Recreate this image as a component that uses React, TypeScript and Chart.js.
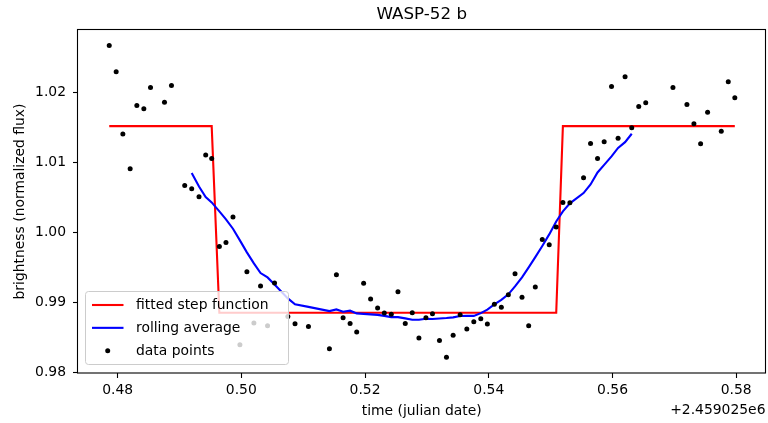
import React, { useEffect, useRef } from "react";
import { Chart, registerables } from "chart.js";

Chart.register(...registerables);

const TITLE = "WASP-52 b";
const X_LABEL = "time (julian date)";
const Y_LABEL = "brightness (normalized flux)";
const X_OFFSET_TEXT = "+2.459025e6";

const xTicks = [0.48, 0.5, 0.52, 0.54, 0.56, 0.58];
const yTicks = [0.98, 0.99, 1.0, 1.01, 1.02];

// time (offset from 2459025) of each measurement
const times = [
  0.47865, 0.47977, 0.48085, 0.48203, 0.48311, 0.48424, 0.48532, 0.48758, 0.48871, 0.49085,
  0.49198, 0.49316, 0.49424, 0.49521, 0.49645, 0.49752, 0.49865, 0.49977, 0.5009, 0.50203,
  0.50311, 0.50424, 0.50537, 0.50752, 0.50868, 0.51085, 0.51424, 0.51537, 0.51645, 0.51758,
  0.51865, 0.51977, 0.5209, 0.52203, 0.52311, 0.52424, 0.52532, 0.5265, 0.52763, 0.52871,
  0.52984, 0.5309, 0.53203, 0.53316, 0.53424, 0.53537, 0.53645, 0.53758, 0.53871, 0.53977,
  0.5409, 0.54203, 0.54316, 0.54424, 0.54537, 0.54645, 0.54752, 0.54865, 0.54977, 0.5509,
  0.55198, 0.55311, 0.55532, 0.55645, 0.55758, 0.55865, 0.55984, 0.5609, 0.56203, 0.56311,
  0.56424, 0.56537, 0.56977, 0.57203, 0.57316, 0.57424, 0.57537, 0.57758, 0.57871, 0.57977,
];

const flux = [
  1.02676, 1.023, 1.01409, 1.00914, 1.01819, 1.01771, 1.02076, 1.01866, 1.02104, 1.00676,
  1.00629, 1.00514, 1.01109, 1.01061, 0.99804, 0.99861, 1.00223, 0.984, 0.99443, 0.98709,
  0.99237, 0.98671, 0.9928, 0.98804, 0.987, 0.98659, 0.98343, 0.994, 0.98786, 0.98704,
  0.9858, 0.99276, 0.99051, 0.98923, 0.98851, 0.98833, 0.99157, 0.98704, 0.98857, 0.98494,
  0.98786, 0.98843, 0.98461, 0.98219, 0.98533, 0.98829, 0.98623, 0.98729, 0.98771, 0.98694,
  0.98976, 0.98933, 0.99114, 0.99414, 0.99076, 0.98671, 0.99223, 0.99904, 0.99829, 1.0008,
  1.00433, 1.00429, 1.00786, 1.01276, 1.01061, 1.013, 1.0209, 1.01351, 1.02229, 1.015,
  1.01804, 1.01857, 1.02076, 1.01833, 1.01557, 1.01271, 1.01723, 1.01451, 1.02157, 1.01929,
];

const rollingTimes = [
  0.49198, 0.49316, 0.49424, 0.49521, 0.49645, 0.49752, 0.49865, 0.49977, 0.5009, 0.50203,
  0.50311, 0.50424, 0.50537, 0.50752, 0.50868, 0.51085, 0.51424, 0.51537, 0.51645, 0.51758,
  0.51865, 0.51977, 0.5209, 0.52203, 0.52311, 0.52424, 0.52532, 0.5265, 0.52763, 0.52871,
  0.52984, 0.5309, 0.53203, 0.53316, 0.53424, 0.53537, 0.53645, 0.53758, 0.53871, 0.53977,
  0.5409, 0.54203, 0.54316, 0.54424, 0.54537, 0.54645, 0.54752, 0.54865, 0.54977, 0.5509,
  0.55198, 0.55311, 0.55532, 0.55645, 0.55758, 0.55865, 0.55984, 0.5609, 0.56203, 0.56311,
];

const rollingFlux = [
  1.00854, 1.00661, 1.00511, 1.00433, 1.00304, 1.0019, 1.00057, 0.9989, 0.99719, 0.99561,
  0.99423, 0.99361, 0.99261, 0.99061, 0.98976, 0.9894, 0.9888, 0.98904, 0.98871, 0.98886,
  0.98847, 0.9884, 0.98833, 0.98826, 0.98811, 0.98794, 0.98794, 0.98776, 0.98757, 0.98757,
  0.98771, 0.98766, 0.98773, 0.9878, 0.9879, 0.98809, 0.98811, 0.98811, 0.98851, 0.989,
  0.98976, 0.9904, 0.99119, 0.99233, 0.99361, 0.99504, 0.99651, 0.99811, 0.99976, 1.00161,
  1.00304, 1.00419, 1.00566, 1.0069, 1.00861, 1.00969, 1.0109, 1.01211, 1.01294, 1.01414,
];

const stepTimes = [0.47865, 0.49521, 0.49645, 0.5509, 0.55198, 0.57977];
const stepFlux = [1.01523, 1.01523, 0.98857, 0.98857, 1.01523, 1.01523];

const legendLabels = ["fitted step function", "rolling average", "data points"];

const FONT = "'DejaVu Sans', 'Liberation Sans', sans-serif";

export default function App() {
  const ref = useRef<HTMLCanvasElement>(null);

  useEffect(() => {
    document.body.style.margin = "0";
    const canvas = ref.current;
    if (!canvas) return;

    const decor = {
      id: "decor",
      afterDraw(chart: any) {
        const ctx = chart.ctx as CanvasRenderingContext2D;
        const a = chart.chartArea;
        ctx.save();
        // spines
        ctx.strokeStyle = "#000";
        ctx.lineWidth = 1.1;
        ctx.strokeRect(a.left - 0.5, a.top - 0.5, a.right - a.left + 0.5, a.bottom - a.top + 0.5);

        ctx.fillStyle = "#000";
        // title
        ctx.font = `16.7px ${FONT}`;
        ctx.textAlign = "center";
        ctx.textBaseline = "middle";
        ctx.fillText(TITLE, (a.left + a.right) / 2, 15);
        // x label
        ctx.font = `13.9px ${FONT}`;
        ctx.fillText(X_LABEL, (a.left + a.right) / 2, 411);
        // offset text
        ctx.textAlign = "right";
        ctx.fillText(X_OFFSET_TEXT, a.right, 410);
        // y label
        ctx.save();
        ctx.translate(20, (a.top + a.bottom) / 2);
        ctx.rotate(-Math.PI / 2);
        ctx.textAlign = "center";
        ctx.fillText(Y_LABEL, 0, 0);
        ctx.restore();

        // legend
        const bx = 85.5, by = 291.5, bw = 203, bh = 73, r = 3;
        ctx.beginPath();
        ctx.moveTo(bx + r, by);
        ctx.lineTo(bx + bw - r, by);
        ctx.arcTo(bx + bw, by, bx + bw, by + r, r);
        ctx.lineTo(bx + bw, by + bh - r);
        ctx.arcTo(bx + bw, by + bh, bx + bw - r, by + bh, r);
        ctx.lineTo(bx + r, by + bh);
        ctx.arcTo(bx, by + bh, bx, by + bh - r, r);
        ctx.lineTo(bx, by + r);
        ctx.arcTo(bx, by, bx + r, by, r);
        ctx.closePath();
        ctx.fillStyle = "rgba(255,255,255,0.8)";
        ctx.fill();
        ctx.strokeStyle = "#cccccc";
        ctx.lineWidth = 1;
        ctx.stroke();

        const colors = ["#ff0000", "#0000ff", "#000000"];
        ctx.font = `13.9px ${FONT}`;
        ctx.textAlign = "left";
        ctx.textBaseline = "middle";
        for (let i = 0; i < legendLabels.length; i++) {
          const y = 305 + i * 22.85;
          if (i < 2) {
            ctx.beginPath();
            ctx.moveTo(92, y);
            ctx.lineTo(123.5, y);
            ctx.strokeStyle = colors[i];
            ctx.lineWidth = 2.1;
            ctx.stroke();
          } else {
            ctx.beginPath();
            ctx.arc(107.7, y, 2.5, 0, Math.PI * 2);
            ctx.fillStyle = colors[i];
            ctx.fill();
          }
          ctx.fillStyle = "#000";
          ctx.fillText(legendLabels[i], 136, y + 0.5);
        }
        ctx.restore();
      },
    };

    const chart = new Chart(canvas, {
      type: "scatter",
      data: {
        datasets: [
          {
            label: legendLabels[2],
            data: times.map((t, i) => ({ x: t, y: flux[i] })),
            backgroundColor: "#000",
            borderColor: "#000",
            borderWidth: 0,
            pointRadius: 2.5,
            pointHoverRadius: 2.5,
            showLine: false,
            order: 0,
          },
          {
            label: legendLabels[1],
            data: rollingTimes.map((t, i) => ({ x: t, y: rollingFlux[i] })),
            borderColor: "#0000ff",
            backgroundColor: "#0000ff",
            borderWidth: 2.1,
            pointRadius: 0,
            showLine: true,
            tension: 0,
            order: 1,
          },
          {
            label: legendLabels[0],
            data: stepTimes.map((t, i) => ({ x: t, y: stepFlux[i] })),
            borderColor: "#ff0000",
            backgroundColor: "#ff0000",
            borderWidth: 2.1,
            pointRadius: 0,
            showLine: true,
            tension: 0,
            order: 2,
          },
        ] as any,
      },
      options: {
        responsive: false,
        animation: false,
        devicePixelRatio: 1,
        events: [],
        layout: { padding: { top: 30, right: 1, left: 0, bottom: 0 } },
        plugins: {
          legend: { display: false },
          tooltip: { enabled: false },
          title: { display: false },
        },
        scales: {
          x: {
            type: "linear",
            min: 0.4736,
            max: 0.58473,
            afterFit: (s: any) => {
              s.height = 50;
            },
            afterBuildTicks: (s: any) => {
              s.ticks = xTicks.map((v) => ({ value: v }));
            },
            grid: {
              display: true,
              drawOnChartArea: false,
              drawTicks: true,
              tickLength: 5,
              tickColor: "#000",
              tickWidth: 1.1,
            },
            border: { display: false },
            ticks: {
              color: "#000",
              font: { family: FONT, size: 13.9 },
              padding: 4,
              maxRotation: 0,
              autoSkip: false,
              callback: (v: any) => Number(v).toFixed(2),
            },
          },
          y: {
            type: "linear",
            min: 0.97995,
            max: 1.02897,
            afterFit: (s: any) => {
              s.width = 78;
            },
            afterBuildTicks: (s: any) => {
              s.ticks = yTicks.map((v) => ({ value: v }));
            },
            grid: {
              display: true,
              drawOnChartArea: false,
              drawTicks: true,
              tickLength: 5,
              tickColor: "#000",
              tickWidth: 1.1,
            },
            border: { display: false },
            ticks: {
              color: "#000",
              font: { family: FONT, size: 13.9 },
              padding: 7,
              autoSkip: false,
              callback: (v: any) => Number(v).toFixed(2),
            },
          },
        },
      } as any,
      plugins: [decor],
    });

    return () => chart.destroy();
  }, []);

  return (
    <div style={{ position: "absolute", left: 0, top: 0, width: 768, height: 423 }}>
      <canvas ref={ref} width={768} height={423} style={{ width: 768, height: 423, display: "block" }} />
    </div>
  );
}
